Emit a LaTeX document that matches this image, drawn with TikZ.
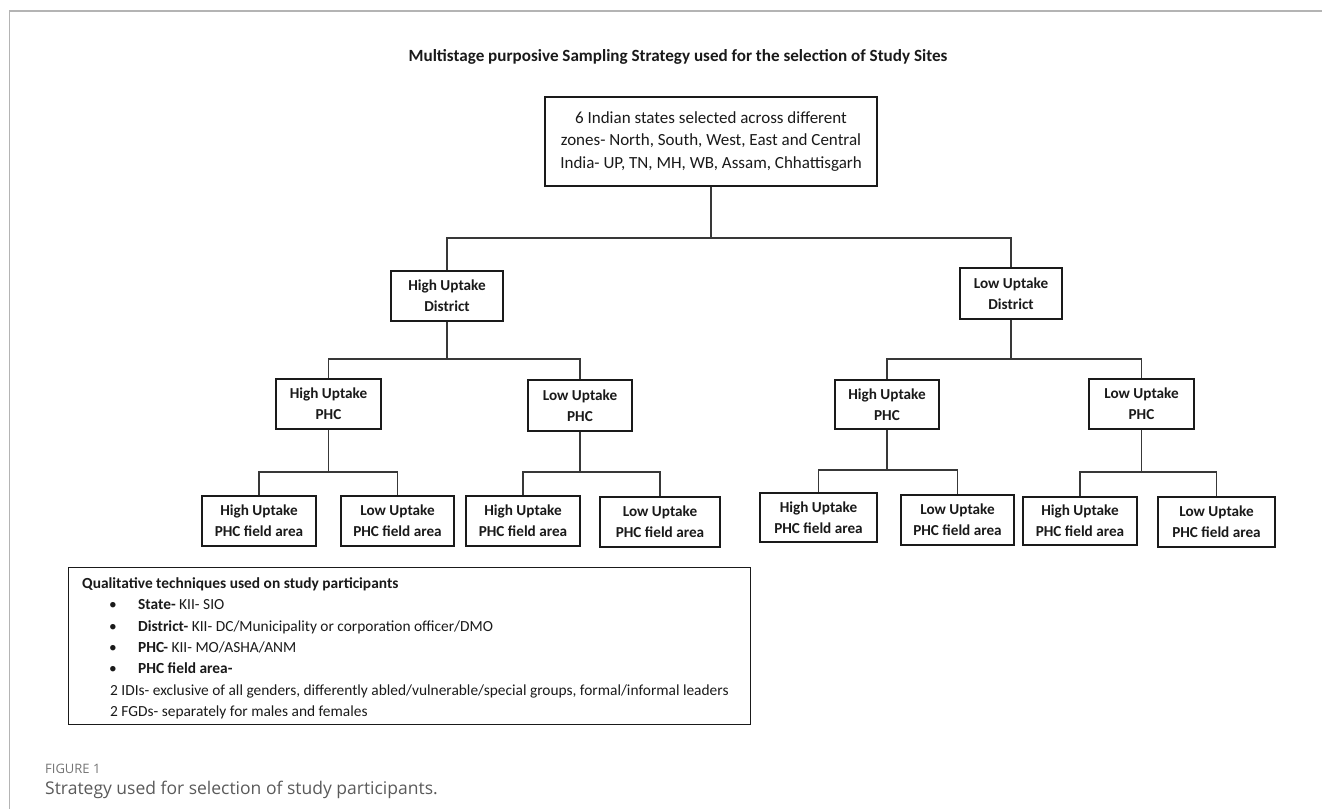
\documentclass[tikz,border=0pt]{standalone}
\usepackage{fontspec}
\setmainfont{Carlito}
\newfontfamily\capfont{Open Sans}
\definecolor{framegray}{HTML}{B4B4B4}
\definecolor{capgray}{HTML}{5A5A5A}
\definecolor{figgray}{HTML}{747474}
\definecolor{ink}{HTML}{1A1A1A}
\begin{document}
\begin{tikzpicture}[x=1pt,y=-1pt,
  box/.style={draw=ink, line width=1.1pt, fill=white, align=center, inner sep=0pt, text=ink,
    font=\fontsize{15.2}{21}\selectfont\bfseries},
  topbox/.style={box, font=\fontsize{17}{22.5}\selectfont},
  conn/.style={draw=black!78, line width=1.1pt},
  qline/.style={anchor=west, inner sep=0pt, text=ink, text height=11pt, text depth=3.5pt,
    font=\fontsize{15.4}{18}\selectfont},
  bul/.style={inner sep=0pt, text=ink, font=\fontsize{15.4}{18}\selectfont}
  ]
\useasboundingbox (0,0) rectangle (1322,809);
% frame
\draw[framegray, line width=1.6pt] (1322,11) -- (9.5,11) -- (9.5,809);
% title
\node[inner sep=0pt, text=ink, font=\fontsize{17.1}{20}\selectfont\bfseries] (title) at (678,57)
  {Multistage purposive Sampling Strategy used for the selection of Study Sites};
% top box
\node[topbox, minimum width=332, minimum height=89] (top) at (711,141.5)
  {6 Indian states selected across different\\zones- North, South, West, East and Central\\India- UP, TN, MH, WB, Assam, Chhattisgarh};
% districts
\node[box, minimum width=112, minimum height=50] (hd) at (447,296) {High Uptake\\District};
\node[box, minimum width=102, minimum height=51] (ld) at (1011,293.5) {Low Uptake\\District};
% PHCs
\node[box, minimum width=105, minimum height=50] (hpl) at (328.5,404) {High Uptake\\PHC};
\node[box, minimum width=104, minimum height=51] (lpl) at (580,405.5) {Low Uptake\\PHC};
\node[box, minimum width=104, minimum height=49] (hpr) at (887,404.5) {High Uptake\\PHC};
\node[box, minimum width=105, minimum height=50] (lpr) at (1141.5,404) {Low Uptake\\PHC};
% leaves
\node[box, minimum width=114, minimum height=50] (l1) at (259,521) {High Uptake\\PHC field area};
\node[box, minimum width=113, minimum height=50] (l2) at (397.5,521) {Low Uptake\\PHC field area};
\node[box, minimum width=114, minimum height=50] (l3) at (523,521) {High Uptake\\PHC field area};
\node[box, minimum width=120, minimum height=50] (l4) at (660,522) {Low Uptake\\PHC field area};
\node[box, minimum width=117, minimum height=49] (r1) at (818.5,517.5) {High Uptake\\PHC field area};
\node[box, minimum width=113, minimum height=50] (r2) at (957.5,520) {Low Uptake\\PHC field area};
\node[box, minimum width=114, minimum height=48] (r3) at (1080,521) {High Uptake\\PHC field area};
\node[box, minimum width=117, minimum height=50] (r4) at (1216.5,522) {Low Uptake\\PHC field area};
% bus levels
\coordinate (b0) at (0,238);
\coordinate (b1) at (0,359);
\coordinate (b2) at (0,472);
\coordinate (b3) at (0,470);
% connectors
\draw[conn] (top.south) -- (top.south |- b0);
\draw[conn] (hd.north) -- (hd.north |- b0) -- (ld.north |- b0) -- (ld.north);
\draw[conn] (hd.south) -- (hd.south |- b1);
\draw[conn] (hpl.north) -- (hpl.north |- b1) -- (lpl.north |- b1) -- (lpl.north);
\draw[conn] (ld.south) -- (ld.south |- b1);
\draw[conn] (hpr.north) -- (hpr.north |- b1) -- (lpr.north |- b1) -- (lpr.north);
\draw[conn] (hpl.south) -- (hpl.south |- b2);
\draw[conn] (l1.north) -- (l1.north |- b2) -- (l2.north |- b2) -- (l2.north);
\draw[conn] (lpl.south) -- (lpl.south |- b2);
\draw[conn] (l3.north) -- (l3.north |- b2) -- (l4.north |- b2) -- (l4.north);
\draw[conn] (hpr.south) -- (hpr.south |- b3);
\draw[conn] (r1.north) -- (r1.north |- b3) -- (r2.north |- b3) -- (r2.north);
\draw[conn] (lpr.south) -- (lpr.south |- b2);
\draw[conn] (r3.north) -- (r3.north |- b2) -- (r4.north |- b2) -- (r4.north);
% qualitative box
\node[draw=ink, line width=1.1pt, minimum width=682, minimum height=157, anchor=north west, inner sep=0pt] (qual) at (68,567) {};
\node[qline, font=\fontsize{15.4}{18}\selectfont\bfseries] (q1) at (82,585) {Qualitative techniques used on study participants};
\node[bul] (u2) at (113,606) {•};
\node[qline] (q2) at (138,606) {\textbf{State-} KII- SIO};
\node[bul] (u3) at (113,628) {•};
\node[qline] (q3) at (138,628) {\textbf{District-} KII- DC/Municipality or corporation officer/DMO};
\node[bul] (u4) at (113,649) {•};
\node[qline] (q4) at (138,649) {\textbf{PHC-} KII- MO/ASHA/ANM};
\node[bul] (u5) at (113,670) {•};
\node[qline] (q5) at (138,670) {\textbf{PHC field area-}};
\node[qline] (q6) at (110,692) {2 IDIs- exclusive of all genders, differently abled/vulnerable/special groups, formal/informal leaders};
\node[qline] (q7) at (110,713) {2 FGDs- separately for males and females};
% caption
\node[anchor=west, inner sep=0pt, text=figgray, font=\capfont\fontsize{13}{15}\selectfont] (fig) at (45,769) {FIGURE 1};
\node[anchor=west, inner sep=0pt, text=capgray, font=\capfont\fontsize{17.5}{20}\selectfont] (cap) at (45,790) {Strategy used for selection of study participants.};
\end{tikzpicture}
\end{document}
